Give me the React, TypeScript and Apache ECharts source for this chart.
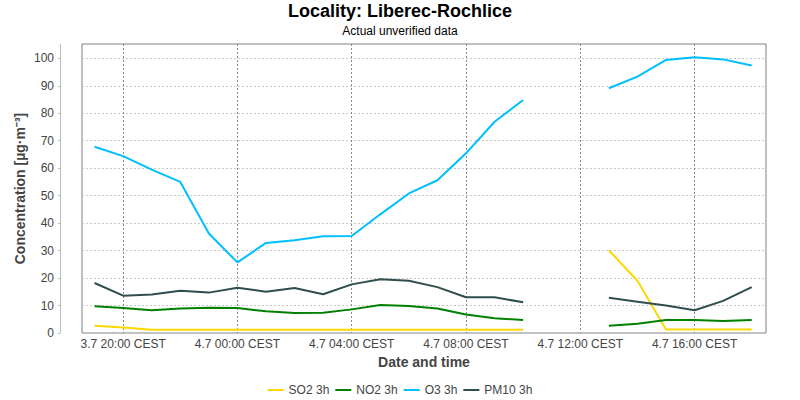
import React, { useEffect, useRef } from "react";
import * as echarts from "echarts";

// hours counted from 3.7 00:00 CEST
const hours = [19, 20, 21, 22, 23, 24, 25, 26, 27, 28, 29, 30, 31, 32, 33, 34, 35, 36, 37, 38, 39, 40, 41, 42];
const so2 = [2.6, 2.0, 1.2, 1.2, 1.2, 1.2, 1.2, 1.2, 1.2, 1.2, 1.2, 1.2, 1.2, 1.2, 1.2, 1.2, null, null, 30.1, 19.0, 1.3, 1.3, 1.3, 1.3];
const no2 = [9.7, 9.1, 8.3, 8.9, 9.2, 9.1, 7.9, 7.3, 7.4, 8.6, 10.2, 9.8, 8.9, 6.7, 5.4, 4.7, null, null, 2.6, 3.4, 4.7, 4.7, 4.4, 4.7];
const o3 = [67.8, 64.4, 59.5, 55.0, 36.2, 25.7, 32.8, 33.8, 35.2, 35.3, 43.2, 50.8, 55.6, 65.4, 76.9, 84.8, null, null, 89.1, 93.3, 99.4, 100.4, 99.6, 97.4];
const pm10 = [18.2, 13.6, 14.0, 15.4, 14.7, 16.5, 15.0, 16.4, 14.1, 17.7, 19.6, 19.0, 16.7, 13.0, 13.0, 11.2, null, null, 12.8, 11.4, 10.0, 8.3, 11.7, 16.7];

const xTickValues = [20, 24, 28, 32, 36, 40];
const xTickLabels = ["3.7 20:00 CEST", "4.7 00:00 CEST", "4.7 04:00 CEST", "4.7 08:00 CEST", "4.7 12:00 CEST", "4.7 16:00 CEST"];
const yTickValues = [0, 10, 20, 30, 40, 50, 60, 70, 80, 90, 100];

const seriesNames = ["SO2 3h", "NO2 3h", "O3 3h", "PM10 3h"];
const seriesColors = ["#FFD700", "#008000", "#00BFFF", "#2F4F4F"];
const seriesData = [so2, no2, o3, pm10];

const FONT = "Liberation Sans, Arial, sans-serif";

export default function App() {
  const ref = useRef<HTMLDivElement>(null);
  useEffect(() => {
    if (!ref.current) return;
    const chart = echarts.init(ref.current, null, { renderer: "svg" });
    chart.setOption({
      animation: false,
      backgroundColor: "#ffffff",
      textStyle: { fontFamily: FONT },
      title: {
        text: "Locality: Liberec-Rochlice",
        subtext: "Actual unverified data",
        left: "center",
        top: -3,
        itemGap: 5,
        textStyle: { fontFamily: FONT, fontSize: 18, fontWeight: "bold", color: "#000" },
        subtextStyle: { fontFamily: FONT, fontSize: 12, color: "#000" },
      },
      legend: {
        bottom: 4,
        left: "center",
        padding: 0,
        icon: "rect",
        itemWidth: 16,
        itemHeight: 2,
        itemGap: 6,
        textStyle: { fontFamily: FONT, fontSize: 12, color: "#444" },
        data: seriesNames,
      },
      grid: {
        left: 82,
        right: 34,
        top: 44,
        bottom: 67,
        show: true,
        borderColor: "#808080",
        borderWidth: 1,
        backgroundColor: "#ffffff",
      },
      xAxis: {
        type: "value",
        min: 18.56,
        max: 42.5,
        name: "Date and time",
        nameLocation: "middle",
        nameGap: 22,
        nameMoveOverlap: false,
        nameTextStyle: { fontFamily: FONT, fontSize: 14, fontWeight: "bold", color: "#444" },
        axisLine: { show: false },
        axisTick: { show: false, customValues: xTickValues },
        axisLabel: {
          customValues: xTickValues,
          margin: 5,
          fontFamily: FONT,
          fontSize: 12,
          color: "#444",
          formatter: (v: number) => xTickLabels[xTickValues.indexOf(Math.round(v))] ?? "",
        },
        splitLine: { show: true, lineStyle: { color: "#888", type: [2, 2], width: 1 } },
      },
      yAxis: {
        type: "value",
        min: 0,
        max: 105.2,
        offset: 22,
        name: "Concentration [µg·m⁻³]",
        nameLocation: "middle",
        nameGap: 33,
        nameMoveOverlap: false,
        nameTextStyle: { fontFamily: FONT, fontSize: 14, fontWeight: "bold", color: "#444" },
        axisLine: { show: true, lineStyle: { color: "#bbb", width: 1 } },
        axisTick: { show: true, length: 2, customValues: yTickValues, lineStyle: { color: "#bbb" } },
        axisLabel: {
          customValues: yTickValues,
          margin: 6,
          fontFamily: FONT,
          fontSize: 12,
          color: "#444",
        },
        splitLine: { show: true, lineStyle: { color: "#c8c8c8", type: [2, 2], width: 1 } },
      },
      series: seriesNames.map((name, i) => ({
        name,
        type: "line",
        symbol: "none",
        connectNulls: false,
        color: seriesColors[i],
        lineStyle: { width: 2, color: seriesColors[i] },
        data: hours.map((h, j) => [h, seriesData[i][j]]),
      })),
    });
    return () => chart.dispose();
  }, []);
  return <div ref={ref} style={{ position: "absolute", left: 0, top: 0, width: 800, height: 400 }} />;
}
